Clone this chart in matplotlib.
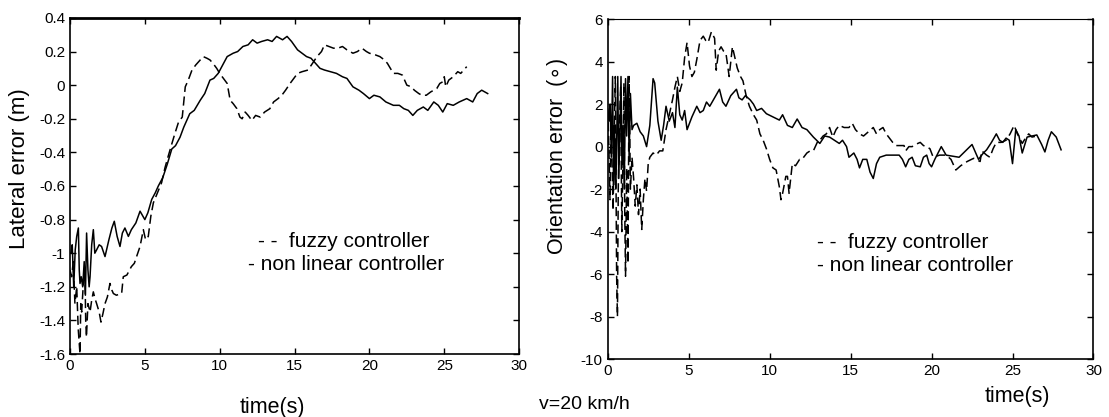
import numpy as np
import matplotlib.pyplot as plt

plt.rcParams['font.family'] = ['Liberation Sans', 'DejaVu Sans']
plt.rcParams['axes.unicode_minus'] = False

# lateral error, non linear controller (solid)
t_lat_nl = [0.0, 0.07, 0.15, 0.25, 0.35, 0.45, 0.56, 0.62, 0.67, 0.75,
            0.85, 0.95, 1.03, 1.11, 1.2, 1.28, 1.34, 1.45, 1.56, 1.66,
            1.78, 1.95, 2.11, 2.34, 2.6, 2.8, 2.96, 3.15, 3.34, 3.5,
            3.67, 3.9, 4.1, 4.4, 4.68, 5.0, 5.2, 5.46, 5.7, 5.9,
            6.2, 6.5, 6.8, 7.05, 7.35, 7.6, 8.0, 8.3, 8.7, 9.0,
            9.35, 9.6, 9.9, 10.2, 10.5, 10.9, 11.2, 11.55, 11.9, 12.2,
            12.5, 12.8, 13.2, 13.5, 13.8, 14.2, 14.5, 14.8, 15.2, 15.5,
            15.8, 16.1, 16.4, 16.7, 17.0, 17.4, 17.8, 18.2, 18.5, 18.9,
            19.3, 19.6, 20.0, 20.3, 20.7, 21.1, 21.6, 22.0, 22.3, 22.6,
            22.9, 23.2, 23.6, 23.9, 24.3, 24.6, 24.9, 25.2, 25.6, 26.0,
            26.5, 26.9, 27.2, 27.5, 27.9]
lat_nl = [-1.0, -1.0, -0.95, -1.2, -0.98, -0.9, -0.85, -1.1, -1.18, -1.14,
          -1.2, -1.05, -1.25, -0.88, -1.1, -1.2, -1.14, -0.95, -0.86, -1.0,
          -0.98, -0.95, -0.96, -1.02, -0.92, -0.85, -0.81, -0.9, -0.96, -0.88,
          -0.85, -0.9, -0.86, -0.82, -0.75, -0.8, -0.76, -0.68, -0.64, -0.6,
          -0.55, -0.47, -0.38, -0.36, -0.31, -0.25, -0.17, -0.15, -0.09, -0.05,
          0.03, 0.04, 0.07, 0.12, 0.17, 0.19, 0.2, 0.23, 0.24, 0.27,
          0.25, 0.26, 0.27, 0.26, 0.29, 0.27, 0.29, 0.26, 0.21, 0.19,
          0.17, 0.16, 0.13, 0.1, 0.09, 0.08, 0.07, 0.05, 0.04, -0.01,
          -0.03, -0.05, -0.08, -0.06, -0.07, -0.1, -0.12, -0.12, -0.14, -0.15,
          -0.18, -0.15, -0.13, -0.15, -0.1, -0.12, -0.16, -0.11, -0.12, -0.1,
          -0.08, -0.1, -0.05, -0.03, -0.05]

# lateral error, fuzzy controller (dashed)
t_lat_fz = [0.0, 0.11, 0.22, 0.33, 0.45, 0.55, 0.67, 0.72, 0.78, 0.88,
            1.0, 1.05, 1.1, 1.2, 1.34, 1.45, 1.56, 1.67, 1.78, 1.95,
            2.07, 2.2, 2.34, 2.5, 2.67, 2.8, 2.9, 3.1, 3.45, 3.56,
            3.8, 4.1, 4.3, 4.45, 4.68, 4.9, 5.05, 5.23, 5.4, 5.57,
            5.8, 6.12, 6.35, 6.57, 6.8, 7.0, 7.25, 7.5, 7.7, 7.9,
            8.15, 8.4, 8.7, 8.9, 9.15, 9.35, 9.55, 9.8, 10.0, 10.25,
            10.5, 10.7, 10.9, 11.15, 11.35, 11.5, 11.7, 11.9, 12.15, 12.4,
            12.7, 13.0, 13.35, 13.6, 13.9, 14.15, 14.4, 14.7, 14.95, 15.2,
            15.5, 15.9, 16.2, 16.5, 16.8, 17.0, 17.3, 17.6, 17.9, 18.2,
            18.5, 18.9, 19.2, 19.5, 19.8, 20.0, 20.4, 20.7, 21.0, 21.2,
            21.4, 21.6, 21.9, 22.2, 22.5, 22.8, 23.0, 23.3, 23.5, 23.8,
            24.1, 24.5, 24.7, 24.9, 25.0, 25.1, 25.3, 25.6, 25.9, 26.1,
            26.3, 26.5]
lat_fz = [-1.1, -1.14, -1.05, -1.3, -1.2, -1.45, -1.6, -1.3, -1.35, -1.2,
          -1.11, -1.4, -1.5, -1.3, -1.35, -1.28, -1.23, -1.27, -1.3, -1.35,
          -1.41, -1.36, -1.3, -1.26, -1.18, -1.22, -1.24, -1.25, -1.24, -1.14,
          -1.13, -1.08, -1.06, -1.02, -0.96, -0.86, -0.92, -0.9, -0.78, -0.7,
          -0.65, -0.58, -0.49, -0.42, -0.35, -0.29, -0.22, -0.19, -0.01, 0.03,
          0.09, 0.12, 0.15, 0.17, 0.16, 0.15, 0.13, 0.1, 0.07, 0.04,
          0.01, -0.09, -0.11, -0.14, -0.19, -0.2, -0.16, -0.18, -0.21, -0.18,
          -0.19, -0.16, -0.14, -0.1, -0.08, -0.06, -0.03, 0.01, 0.04, 0.07,
          0.08, 0.09, 0.13, 0.17, 0.2, 0.24, 0.23, 0.22, 0.22, 0.23,
          0.21, 0.19, 0.2, 0.22, 0.2, 0.19, 0.18, 0.17, 0.15, 0.13,
          0.1, 0.07, 0.07, 0.06, 0.0, -0.01, -0.03, -0.05, -0.06, -0.06,
          -0.04, -0.02, 0.01, 0.02, 0.05, -0.01, 0.03, 0.05, 0.08, 0.07,
          0.09, 0.11]

# orientation error, non linear controller (solid)
t_ori_nl = [0.0, 0.08, 0.15, 0.22, 0.3, 0.36, 0.42, 0.5, 0.56, 0.62,
            0.68, 0.75, 0.82, 0.88, 0.95, 1.02, 1.1, 1.17, 1.25, 1.32,
            1.4, 1.5, 1.6, 1.8, 2.0, 2.2, 2.4, 2.6, 2.8, 2.9,
            3.1, 3.3, 3.45, 3.6, 3.8, 4.0, 4.15, 4.3, 4.45, 4.6,
            4.75, 4.9, 5.2, 5.5, 5.7, 5.9, 6.1, 6.3, 6.6, 6.9,
            7.1, 7.3, 7.6, 7.95, 8.1, 8.3, 8.5, 8.8, 9.0, 9.2,
            9.5, 9.8, 10.2, 10.6, 10.8, 11.1, 11.4, 11.7, 12.0, 12.3,
            12.7, 13.1, 13.4, 13.7, 14.0, 14.3, 14.5, 14.75, 14.9, 15.2,
            15.4, 15.55, 15.75, 16.0, 16.2, 16.4, 16.6, 16.8, 17.2, 17.6,
            18.0, 18.2, 18.4, 18.6, 18.8, 19.0, 19.3, 19.5, 19.7, 19.85,
            20.0, 20.2, 20.4, 20.6, 20.9, 21.3, 21.7, 22.1, 22.5, 22.9,
            23.2, 23.4, 23.7, 24.0, 24.2, 24.4, 24.6, 24.8, 25.0, 25.2,
            25.4, 25.6, 25.9, 26.2, 26.5, 26.8, 27.0, 27.2, 27.4, 27.7,
            28.0]
ori_nl = [1.7, 1.2, 2.0, -0.5, 3.3, -1.8, 1.0, -2.0, 0.8, 3.3,
          -1.5, 0.5, 3.3, -1.0, 1.0, -2.0, 3.2, 0.5, 3.3, -0.5,
          2.5, 0.8, 1.0, 1.1, 0.7, 0.5, 0.0, 1.0, 3.2, 3.0,
          1.2, 0.3, 1.0, 1.9, 1.2, 1.6, 0.9, 2.8, 1.5, 1.25,
          1.7, 0.8, 1.4, 1.9, 1.6, 1.7, 2.1, 1.9, 2.3, 2.7,
          2.1, 1.9, 2.4, 2.7, 2.3, 2.2, 2.4, 2.2, 2.0, 1.7,
          1.8, 1.55, 1.4, 1.25, 1.5, 1.0, 0.9, 1.3, 0.9, 0.8,
          0.45, 0.15, 0.5, 0.45, 0.3, 0.15, 0.3, 0.0, -0.5, -0.3,
          -0.6, -1.0, -0.6, -0.6, -1.2, -1.5, -0.8, -0.5, -0.4, -0.4,
          -0.4, -0.6, -0.95, -0.6, -0.5, -0.9, -0.95, -0.5, -0.4, -0.8,
          -0.95, -0.6, -0.3, 0.0, -0.4, -0.45, -0.5, -0.2, 0.1, -0.6,
          -0.3, -0.15, 0.2, 0.6, 0.3, 0.2, 0.4, 0.3, -0.8, 0.8,
          0.5, -0.3, 0.45, 0.5, 0.55, 0.1, -0.25, 0.3, 0.7, 0.45,
          -0.15]

# orientation error, fuzzy controller (dashed)
t_ori_fz = [0.0, 0.07, 0.14, 0.2, 0.27, 0.33, 0.4, 0.47, 0.55, 0.6,
            0.65, 0.72, 0.8, 0.87, 0.93, 1.0, 1.05, 1.1, 1.17, 1.25,
            1.32, 1.4, 1.5, 1.6, 1.7, 1.8, 1.9, 2.0, 2.1, 2.2,
            2.3, 2.4, 2.5, 2.6, 2.8, 3.0, 3.2, 3.4, 3.6, 3.8,
            4.0, 4.15, 4.3, 4.45, 4.6, 4.75, 4.9, 5.05, 5.2, 5.35,
            5.5, 5.7, 5.9, 6.05, 6.2, 6.4, 6.6, 6.7, 6.85, 7.0,
            7.15, 7.3, 7.5, 7.7, 7.85, 8.0, 8.2, 8.35, 8.55, 8.75,
            9.0, 9.2, 9.4, 9.6, 9.8, 10.0, 10.2, 10.4, 10.6, 10.7,
            10.8, 11.0, 11.1, 11.2, 11.4, 11.6, 11.85, 12.0, 12.3, 12.5,
            12.7, 13.0, 13.1, 13.3, 13.5, 13.7, 13.9, 14.1, 14.3, 14.6,
            14.9, 15.1, 15.3, 15.55, 15.8, 16.1, 16.4, 16.6, 16.8, 17.0,
            17.2, 17.4, 17.6, 17.8, 18.0, 18.3, 18.4, 18.6, 18.8, 19.0,
            19.3, 19.5, 19.7, 19.9, 20.1, 20.5, 20.9, 21.2, 21.5, 21.8,
            22.2, 22.6, 23.0, 23.1, 23.4, 23.6, 23.8, 24.0, 24.3, 24.6,
            24.85, 25.1, 25.3, 25.4, 25.6, 25.8, 26.0, 26.2, 26.5]
ori_fz = [1.8, 0.0, -2.5, 1.5, -1.0, -3.0, 0.5, 3.3, -6.1, -8.0,
          -2.0, 1.0, 2.8, -4.0, -1.0, 3.0, -3.0, -6.1, -1.0, -5.5,
          3.3, -2.0, -0.5, -1.5, -2.8, -1.8, -3.2, -2.0, -3.9, -2.5,
          -1.5, -2.1, -0.8, -0.5, -0.3, -0.4, -0.2, -0.2, 0.8, 1.5,
          2.2, 2.8, 3.3, 2.6, 3.0, 4.2, 4.9, 3.8, 3.3, 3.5,
          4.1, 5.0, 5.2, 5.0, 4.9, 5.4, 5.1, 3.6, 4.5, 4.7,
          4.5, 4.4, 3.3, 4.7, 4.2, 3.7, 3.3, 3.1, 2.4, 1.9,
          1.5, 1.25, 0.6, 0.3, -0.1, -0.6, -1.0, -1.1, -1.9, -2.5,
          -2.2, -1.4, -1.4, -2.2, -0.8, -0.9, -0.6, -0.6, -0.3, -0.2,
          -0.2, 0.3, 0.3, 0.5, 0.6, 0.9, 0.45, 0.8, 1.0, 0.9,
          0.9, 1.1, 0.8, 0.6, 0.5, 0.7, 0.9, 0.6, 0.8, 0.9,
          0.6, 0.4, 0.2, 0.05, 0.05, 0.05, -0.2, 0.0, 0.0, 0.1,
          0.2, 0.05, 0.0, -0.1, -0.5, -0.4, -0.4, -0.6, -1.1, -0.9,
          -0.7, -0.55, -0.7, -0.2, -0.4, -0.5, -0.1, 0.2, 0.2, 0.3,
          0.6, 1.0, 0.6, 0.45, 0.15, 0.4, 0.6, 0.45, 0.5]

lat_ticks = [-1.6, -1.4, -1.2, -1, -0.8, -0.6, -0.4, -0.2, 0, 0.2, 0.4]
lat_ticklabels = ['-1.6', '-1.4', '-1.2', '-1', '-0.8', '-0.6', '-0.4', '-0.2', '0', '0.2', '0.4']
ori_ticks = [-10, -8, -6, -4, -2, 0, 2, 4, 6]
time_ticks = [0, 5, 10, 15, 20, 25, 30]

fig = plt.figure(figsize=(11.09, 4.17), dpi=100)
ax1 = fig.add_axes([0.0631, 0.151, 0.405, 0.806])
ax2 = fig.add_axes([0.548, 0.139, 0.438, 0.815])

dash = (0, (6, 3))

# left: lateral error
ax1.plot(t_lat_fz, lat_fz, color='k', lw=1.1, linestyle=dash)
ax1.plot(t_lat_nl, lat_nl, color='k', lw=1.1)
ax1.set_xlim(0, 30)
ax1.set_ylim(-1.6, 0.4)
ax1.set_xticks(time_ticks)
ax1.set_yticks(lat_ticks)
ax1.set_yticklabels(lat_ticklabels)
ax1.set_ylabel('Lateral error (m)', fontsize=16)
ax1.yaxis.set_label_coords(-0.089, 0.553)
ax1.spines['top'].set_linewidth(2)
ax1.text(12.56, -0.93, '- -  fuzzy controller', fontsize=15, va='center')
ax1.text(11.9, -1.07, '- non linear controller', fontsize=15, va='center')

# right: orientation error
ax2.plot(t_ori_fz, ori_fz, color='k', lw=1.1, linestyle=dash)
ax2.plot(t_ori_nl, ori_nl, color='k', lw=1.1)
ax2.set_xlim(0, 30)
ax2.set_ylim(-10, 6)
ax2.set_xticks(time_ticks)
ax2.set_yticks(ori_ticks)
ax2.set_ylabel(r'Orientation error  ($\circ$)', fontsize=15.5)
ax2.yaxis.set_label_coords(-0.078, 0.597)
ax2.text(12.9, -4.5, '- -  fuzzy controller', fontsize=15, va='center')
ax2.text(12.9, -5.6, '- non linear controller', fontsize=15, va='center')

for ax in (ax1, ax2):
    ax.tick_params(direction='in', top=True, right=True, labelsize=11,
                   length=4, width=1)
    for s in ['left', 'right', 'bottom']:
        ax.spines[s].set_linewidth(1.2)

fig.text(0.246, 0.022, 'time(s)', fontsize=15.5, ha='center', va='center')
fig.text(0.917, 0.05, 'time(s)', fontsize=15.5, ha='center', va='center')
fig.text(0.527, 0.03, 'v=20 km/h', fontsize=14, ha='center', va='center')

fig.savefig('out.png', dpi=100)
